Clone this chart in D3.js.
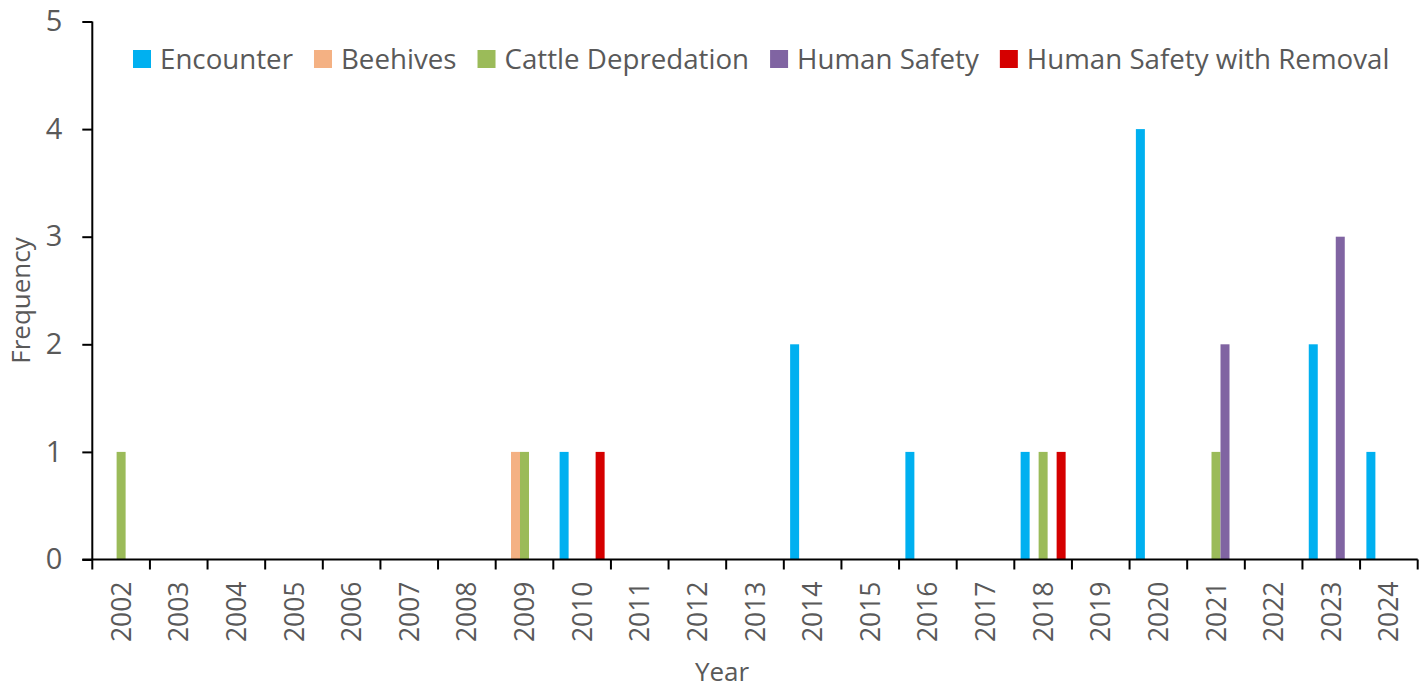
<!DOCTYPE html>
<html>
<head>
<meta charset="utf-8">
<script src="https://cdn.jsdelivr.net/npm/d3@7"></script>
<style>
  html, body { margin: 0; padding: 0; background: #fff; }
  svg { display: block; }
  text { font-family: "Open Sans", "Noto Sans", sans-serif; fill: #595959; }
</style>
</head>
<body>
<svg id="chart" width="1427" height="690"></svg>
<script>
// Incident frequency by year and type
const years = ["2002","2003","2004","2005","2006","2007","2008","2009","2010","2011","2012",
               "2013","2014","2015","2016","2017","2018","2019","2020","2021","2022","2023","2024"];
const seriesNames = ["Encounter", "Beehives", "Cattle Depredation", "Human Safety", "Human Safety with Removal"];
const seriesColors = ["#00B0F0", "#F4B183", "#9BBB59", "#8064A2", "#D50000"];

const encounter     = [0,0,0,0,0,0,0,0,1,0,0,0,2,0,1,0,1,0,4,0,0,2,1];
const beehives      = [0,0,0,0,0,0,0,1,0,0,0,0,0,0,0,0,0,0,0,0,0,0,0];
const cattle        = [1,0,0,0,0,0,0,1,0,0,0,0,0,0,0,0,1,0,0,1,0,0,0];
const humanSafety   = [0,0,0,0,0,0,0,0,0,0,0,0,0,0,0,0,0,0,0,2,0,3,0];
const humanRemoval  = [0,0,0,0,0,0,0,0,1,0,0,0,0,0,0,0,1,0,0,0,0,0,0];
const yTicks = [0, 1, 2, 3, 4, 5];

const seriesValues = [encounter, beehives, cattle, humanSafety, humanRemoval];

const svg = d3.select("#chart");
const plot = { left: 92.3, right: 1417.7, top: 21.5, bottom: 559.5 };

const x = d3.scaleBand().domain(years).range([plot.left, plot.right]).padding(0);
const barW = 9;
const xs = d3.scaleBand().domain(seriesNames)
  .range([x.bandwidth() / 2 - barW * 2.5, x.bandwidth() / 2 + barW * 2.5]).padding(0);
const y = d3.scaleLinear().domain([0, 5]).range([plot.bottom, plot.top]);

// Bars
const groups = svg.append("g").selectAll("g")
  .data(years)
  .join("g")
  .attr("transform", d => `translate(${x(d)},0)`);

groups.selectAll("rect")
  .data((yr, i) => seriesNames.map((s, k) => ({ s, k, v: seriesValues[k][i] })))
  .join("rect")
  .filter(d => d.v > 0)
  .attr("x", d => xs(d.s))
  .attr("width", xs.bandwidth())
  .attr("y", d => y(d.v))
  .attr("height", d => y(0) - y(d.v))
  .attr("fill", d => seriesColors[d.k]);

// Y axis
const yAxis = svg.append("g")
  .attr("transform", `translate(${plot.left},0)`)
  .call(d3.axisLeft(y).tickValues(yTicks).tickFormat(d3.format("d")).tickSize(10).tickPadding(20));
yAxis.select(".domain").attr("stroke", "#000").attr("stroke-width", 2).attr("d", `M0,${plot.top}V${plot.bottom}`);
yAxis.selectAll(".tick line").attr("stroke", "#000").attr("stroke-width", 2);
yAxis.selectAll(".tick text").style("font-size", "29px").attr("fill", "#595959");

// X axis
const xAxisG = svg.append("g").attr("transform", `translate(0,${plot.bottom})`);
xAxisG.append("line")
  .attr("x1", plot.left - 10).attr("x2", plot.right)
  .attr("stroke", "#000").attr("stroke-width", 2);
const bounds = d3.range(years.length + 1).map(i => plot.left + i * x.bandwidth());
xAxisG.selectAll("line.tk")
  .data(bounds)
  .join("line")
  .attr("class", "tk")
  .attr("x1", d => d).attr("x2", d => d)
  .attr("y1", 0).attr("y2", 10)
  .attr("stroke", "#000").attr("stroke-width", 2);
xAxisG.selectAll("text.yl")
  .data(years)
  .join("text")
  .attr("class", "yl")
  .attr("transform", d => `translate(${x(d) + x.bandwidth() / 2},${22}) rotate(-90)`)
  .attr("text-anchor", "end")
  .attr("dy", "0.36em")
  .style("font-size", "26.5px")
  .text(d => d);

// Axis titles
svg.append("text")
  .attr("transform", `translate(30,${(plot.top + plot.bottom) / 2 + 10}) rotate(-90)`)
  .attr("text-anchor", "middle")
  .style("font-size", "26px")
  .text("Frequency");
svg.append("text")
  .attr("x", 722).attr("y", 681)
  .attr("text-anchor", "middle")
  .style("font-size", "26px")
  .text("Year");

// Legend
const legend = svg.append("g").attr("transform", "translate(0,59)");
const items = legend.selectAll("g").data(seriesNames).join("g");
items.append("rect")
  .attr("width", 18).attr("height", 18).attr("y", -9)
  .attr("fill", (d, i) => seriesColors[i]);
items.append("text")
  .attr("x", 27).attr("dy", "0.36em")
  .style("font-size", "27.7px")
  .text(d => d);
const widths = [];
items.each(function () {
  widths.push(27 + d3.select(this).select("text").node().getComputedTextLength());
});
const gap = 21;
let cx = 133;
items.attr("transform", (d, i) => {
  const t = `translate(${cx},0)`;
  cx += widths[i] + gap;
  return t;
});
</script>
</body>
</html>
